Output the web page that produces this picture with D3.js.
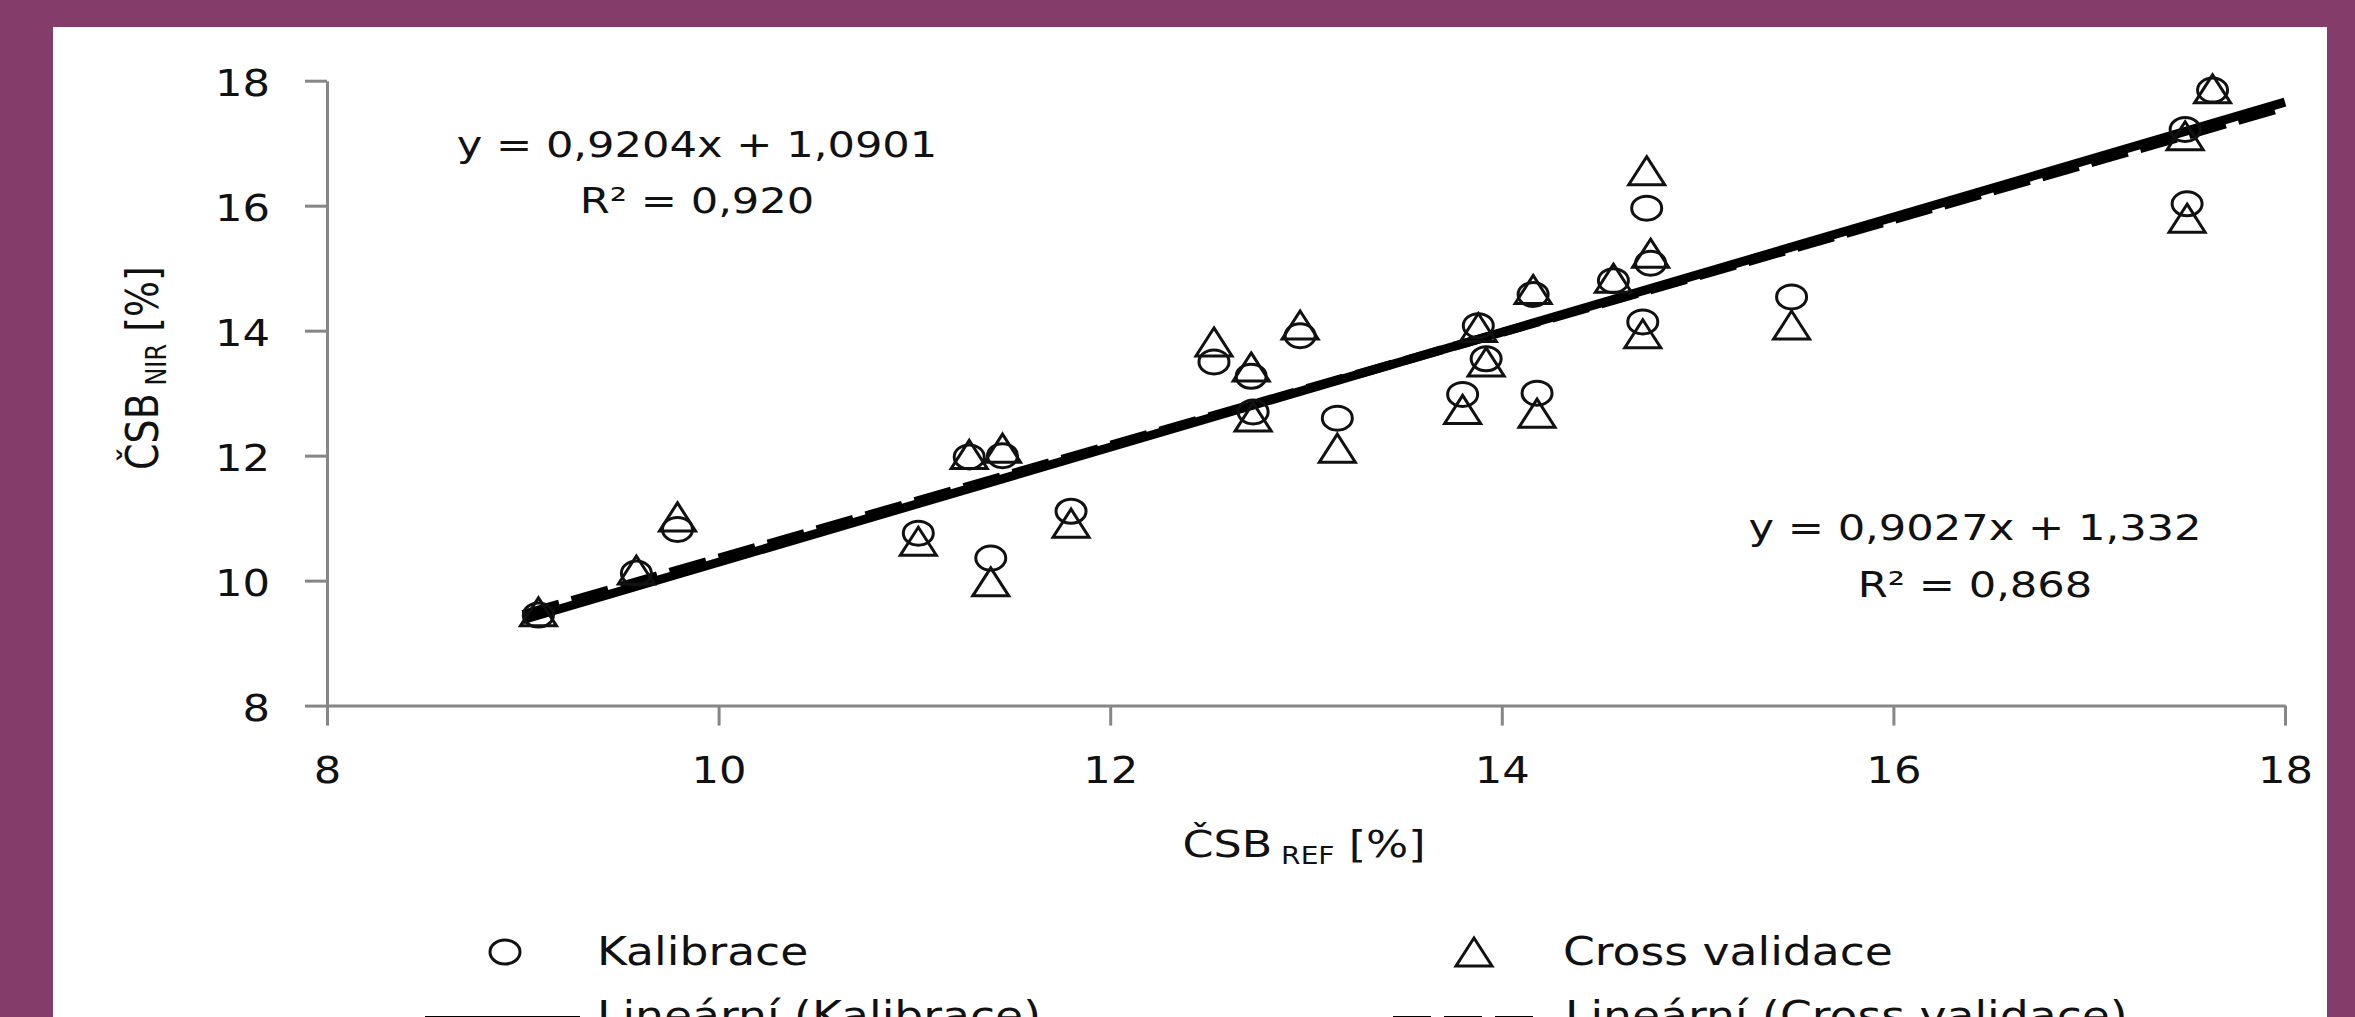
<!DOCTYPE html>
<html>
<head>
<meta charset="utf-8">
<script src="https://cdn.jsdelivr.net/npm/d3@7"></script>
<style>
  html, body { margin: 0; padding: 0; background: #843c6a; overflow: hidden; }
  svg { display: block; }
  text { font-family: "DejaVu Sans", Verdana, sans-serif; fill: #111; }
</style>
</head>
<body>
<script>
// ČSB reference vs NIR prediction
var refX = [9.08, 9.58, 9.79, 11.02, 11.28, 11.39, 11.45, 11.80, 12.53, 12.72, 12.73, 12.97, 13.16,
            13.80, 13.88, 13.92, 14.16, 14.18, 14.57, 14.72, 14.74, 14.76, 15.48, 17.49, 17.50, 17.63];
var kalibrace = [9.45, 10.12, 10.82, 10.76, 11.98, 10.36, 12.00, 11.11, 13.50, 13.27, 12.70, 13.92, 12.60,
                 12.98, 14.08, 13.55, 14.58, 13.00, 14.80, 14.14, 15.96, 15.08, 14.54, 17.22, 16.03, 17.85];
var crossValidace = [9.50, 10.17, 11.02, 10.63, 12.02, 9.98, 12.12, 10.92, 13.82, 13.42, 12.62, 14.09, 12.12,
                     12.74, 14.05, 13.50, 14.66, 12.68, 14.84, 13.95, 16.56, 15.24, 14.09, 17.12, 15.80, 17.87];

var trendNames = ["Lineární (Kalibrace)", "Lineární (Cross validace)"];
var trendSlope = [0.9204, 0.9027];
var trendIntercept = [1.0901, 1.332];
var trendRange = [9.0, 18.0];
var eqLabels = [["y = 0,9204x + 1,0901", "R² = 0,920"], ["y = 0,9027x + 1,332", "R² = 0,868"]];

var xTicks = [8, 10, 12, 14, 16, 18];
var yTicks = [8, 10, 12, 14, 16, 18];

var width = 2355,
    height = 1017,
    sx = 1.17; // glyphs in the source are stretched sideways

var svg = d3.select("body").append("svg")
    .attr("width", width)
    .attr("height", height);

svg.append("rect")
    .attr("x", 53).attr("y", 27)
    .attr("width", 2327 - 53).attr("height", height)
    .attr("fill", "#fff");

var x = d3.scaleLinear().domain([8, 18]).range([327, 2285]);
var y = d3.scaleLinear().domain([8, 18]).range([705.6, 80.7]);

// helper: horizontal text with sideways stretch
function label(g, tx, ty, str, size, anchor, k) {
    return g.append("text")
        .attr("transform", "translate(" + tx + "," + ty + ") scale(" + (k || sx) + ",1)")
        .attr("font-size", size)
        .attr("text-anchor", anchor || "start")
        .text(str);
}

// axes
var xAxis = svg.append("g")
    .attr("transform", "translate(0," + y(8) + ")")
    .call(d3.axisBottom(x).tickValues(xTicks).tickSize(20).tickSizeOuter(0).tickFormat(d3.format("d")));
var yAxis = svg.append("g")
    .attr("transform", "translate(" + x(8) + ",0)")
    .call(d3.axisLeft(y).tickValues(yTicks).tickSize(22).tickSizeOuter(0).tickFormat(d3.format("d")));

[xAxis, yAxis].forEach(function(a) {
    a.select(".domain").attr("stroke", "#868686").attr("stroke-width", 3);
    a.selectAll(".tick line").attr("stroke", "#868686").attr("stroke-width", 3);
    a.selectAll(".tick text").attr("font-size", 37).attr("font-family", "DejaVu Sans").attr("fill", "#111");
});
xAxis.selectAll(".tick text")
    .attr("y", 77).attr("dy", 0)
    .attr("transform", "scale(" + sx + ",1)");
yAxis.selectAll(".tick text")
    .attr("x", -57 / sx).attr("dy", 15)
    .attr("transform", "scale(" + sx + ",1)");

// trend lines
var trendDash = [null, "38,13"];
[1, 0].forEach(function(i) {
    var pts = trendRange.map(function(v) { return [x(v), y(trendSlope[i] * v + trendIntercept[i])]; });
    svg.append("path")
        .attr("d", d3.line()(pts))
        .attr("stroke", "#000")
        .attr("stroke-width", 9)
        .attr("stroke-dasharray", trendDash[i])
        .attr("fill", "none");
});

// markers
var tri = "M0,-14L18,14L-18,14Z";
var marks = svg.append("g").attr("fill", "none").attr("stroke", "#111").attr("stroke-width", 3);
marks.selectAll("ellipse")
    .data(refX)
    .enter().append("ellipse")
    .attr("cx", function(d) { return x(d); })
    .attr("cy", function(d, i) { return y(kalibrace[i]); })
    .attr("rx", 15).attr("ry", 12);
marks.selectAll("path")
    .data(refX)
    .enter().append("path")
    .attr("d", tri)
    .attr("transform", function(d, i) { return "translate(" + x(d) + "," + y(crossValidace[i]) + ")"; });

// equations
label(svg, 697, 157, eqLabels[0][0], 36, "middle", 1.2);
label(svg, 697, 213, eqLabels[0][1], 36, "middle", 1.2);
label(svg, 1975, 540, eqLabels[1][0], 36, "middle", 1.2);
label(svg, 1975, 597, eqLabels[1][1], 36, "middle", 1.2);

// axis titles
var xt = label(svg, 1304, 857, "ČSB", 38, "middle");
xt.append("tspan").attr("font-size", 24).attr("dy", 7).text(" REF");
xt.append("tspan").attr("dy", -7).text(" [%]");

var yt = svg.append("text")
    .attr("transform", "translate(158,368) rotate(-90) scale(1," + sx + ")")
    .attr("font-size", 38)
    .attr("text-anchor", "middle")
    .text("ČSB");
yt.append("tspan").attr("font-size", 24).attr("dy", 7).text(" NIR");
yt.append("tspan").attr("dy", -7).text(" [%]");

// legend
var lg = svg.append("g");
lg.append("ellipse").attr("cx", 505).attr("cy", 952).attr("rx", 15).attr("ry", 12)
    .attr("fill", "none").attr("stroke", "#111").attr("stroke-width", 3);
label(lg, 597, 965, "Kalibrace", 39);
lg.append("path").attr("d", tri).attr("transform", "translate(1474,952)")
    .attr("fill", "none").attr("stroke", "#111").attr("stroke-width", 3);
label(lg, 1563, 965, "Cross validace", 39);

lg.append("line").attr("x1", 425).attr("x2", 580).attr("y1", 1021).attr("y2", 1021)
    .attr("stroke", "#000").attr("stroke-width", 10);
label(lg, 597, 1029, trendNames[0], 39);
lg.append("line").attr("x1", 1393).attr("x2", 1536).attr("y1", 1021).attr("y2", 1021)
    .attr("stroke", "#000").attr("stroke-width", 10).attr("stroke-dasharray", "38,13");
label(lg, 1565, 1029, trendNames[1], 39);
</script>
</body>
</html>
